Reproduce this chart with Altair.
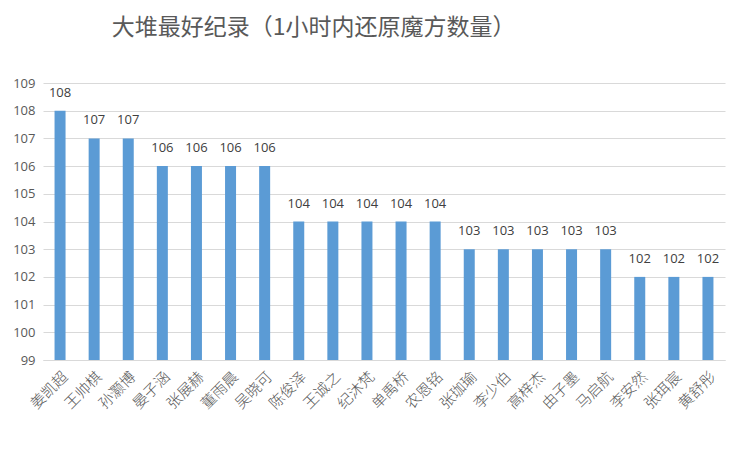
import pandas as pd
import altair as alt

names = ["姜凯超", "王帅棋", "孙灏博", "晏子涵", "张展赫", "董雨晨", "吴晓可", "陈俊泽", "王诚之", "纪沐梵",
         "单禹桥", "农恩铭", "张珈瑜", "李少伯", "高梓杰", "由子墨", "马启航", "李安然", "张珥宸", "黄舒彤"]
counts = [108, 107, 107, 106, 106, 106, 106, 104, 104, 104,
          104, 104, 103, 103, 103, 103, 103, 102, 102, 102]
y_ticks = [99, 100, 101, 102, 103, 104, 105, 106, 107, 108, 109]

df = pd.DataFrame({"name": names, "count": counts})

SANS = "Open Sans"
CJK = "Noto Sans CJK SC"
GREY = "#595959"

base = alt.Chart(df).encode(
    x=alt.X(
        "name:N",
        sort=None,
        title=None,
        scale=alt.Scale(paddingInner=0.0, paddingOuter=0.0),
        axis=alt.Axis(
            labelAngle=-45,
            labelFont=CJK,
            labelFontSize=15,
            labelFontWeight=300,
            labelColor=GREY,
            labelPadding=9,
            ticks=False,
            domainColor="#d9d9d9",
            domainWidth=1,
        ),
    ),
    y=alt.Y(
        "count:Q",
        title=None,
        scale=alt.Scale(domain=[99, 109], nice=False, zero=False),
        axis=alt.Axis(
            values=y_ticks,
            labelFont=SANS,
            labelFontSize=13,
            labelColor=GREY,
            labelPadding=8,
            ticks=False,
            domain=False,
            grid=True,
            gridColor="#d9d9d9",
        ),
    ),
)

bars = base.mark_bar(size=11, color="#5B9BD5").encode(y2=alt.datum(99))
labels = base.mark_text(
    baseline="bottom", dy=-11, font=SANS, fontSize=13, color="#404040"
).encode(text="count:Q")

chart = (
    (bars + labels)
    .properties(
        width=682,
        height=277,
        autosize=alt.AutoSizeParams(type="none"),
        padding={"left": 35, "top": 75, "right": 17, "bottom": 81},
        background="white",
        title=alt.Title(
            "大堆最好纪录（1小时内还原魔方数量）",
            anchor="start",
            dx=99,
            offset=37,
            font=CJK,
            fontSize=23,
            fontWeight="normal",
            color=GREY,
        ),
    )
    .configure_view(stroke=None)
)

chart.save("out.html", embed_options={"renderer": "svg", "actions": False})
